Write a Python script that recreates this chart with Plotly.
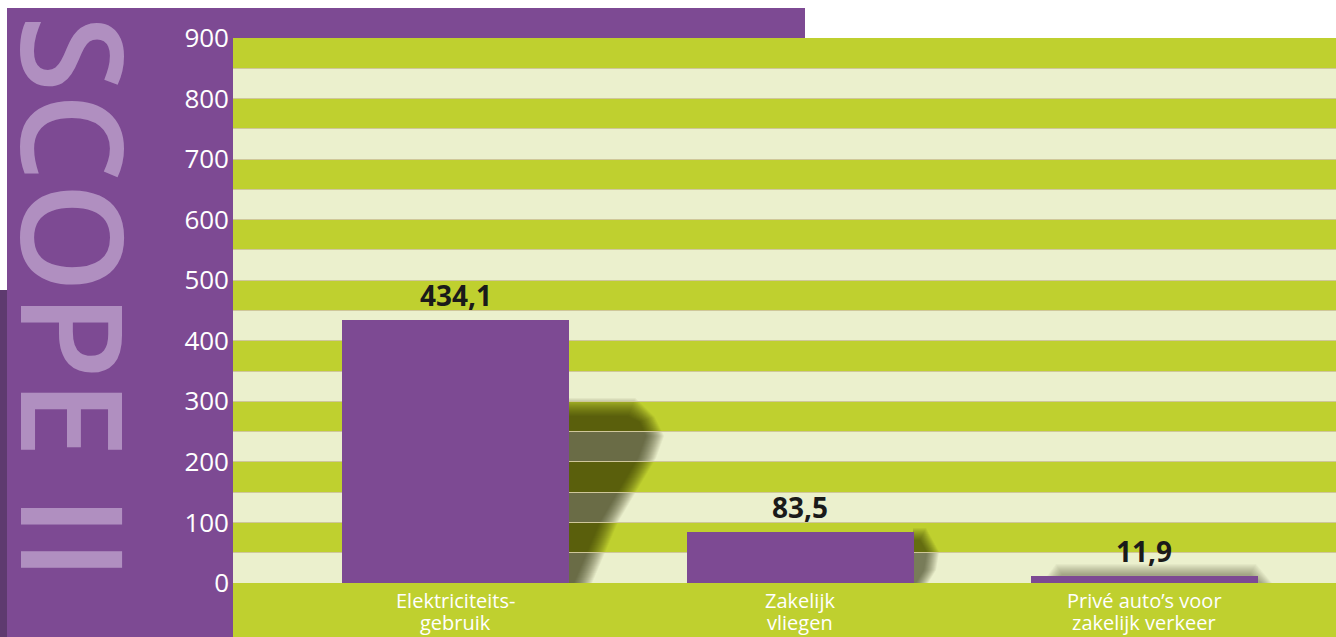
import plotly.graph_objects as go

# ---- data ----
categories = ["Elektriciteits-<br>gebruik", "Zakelijk<br>vliegen", "Privé auto’s voor<br>zakelijk verkeer"]
values = [434.1, 83.5, 11.9]
value_labels = ["434,1", "83,5", "11,9"]
y_ticks = [0, 100, 200, 300, 400, 500, 600, 700, 800, 900]
title_text = "SCOPE II"

PURPLE = "#7d4a93"
GREEN = "#bfd02f"
LIGHT = "#ebf0cd"
GRID = "#cfc79a"

W, H = 1336, 637
L, R, T, B = 233, 0, 38, 54
pw, ph = W - L - R, H - T - B


def px_x(p):
    return (p - L) / pw


def px_y(p):
    return (H - B - p) / ph


x_idx = list(range(len(categories)))

fig = go.Figure()
fig.add_trace(go.Bar(
    x=x_idx, y=values, width=0.659,
    marker=dict(color=PURPLE, line=dict(width=0)),
    hoverinfo="skip", showlegend=False,
))

shapes = []
# purple panel
shapes.append(dict(type="rect", xref="paper", yref="paper", x0=px_x(7), x1=px_x(805),
                   y0=px_y(H + 5), y1=px_y(8), fillcolor=PURPLE, line=dict(width=0), layer="below"))
shapes.append(dict(type="rect", xref="paper", yref="paper", x0=px_x(-2), x1=px_x(7),
                   y0=px_y(H + 5), y1=px_y(290), fillcolor="#5e3a6f", line=dict(width=0), layer="below"))
# stripes
for k in range(0, 900, 100):
    shapes.append(dict(type="rect", xref="paper", yref="y", x0=0, x1=1, y0=k, y1=k + 50,
                       fillcolor=LIGHT, line=dict(width=0), layer="below"))
    shapes.append(dict(type="rect", xref="paper", yref="y", x0=0, x1=1, y0=k + 50, y1=k + 100,
                       fillcolor=GREEN, line=dict(width=0), layer="below"))
# bottom label band
shapes.append(dict(type="rect", xref="paper", yref="paper", x0=0, x1=1.01, y0=px_y(H + 5), y1=0,
                   fillcolor=GREEN, line=dict(width=0), layer="below"))


# soft shadows (many layered translucent paths to fake a blur)
def shadow(pts, op):
    d = "M " + " L ".join(f"{px_x(a)},{px_y(b)}" for a, b in pts) + " Z"
    return dict(type="path", xref="paper", yref="paper", path=d, fillcolor="#1e1e08",
                opacity=op, line=dict(width=0), layer="between")


for g in range(18, -1, -1):
    shapes.append(shadow([(569, 416 - g), (628 + 0.4 * g, 416 - g), (640 + 0.8 * g, 422 - 0.3 * g),
                          (646 + g, 436), (638 + g, 458), (600 + g, 522), (574 + g, 583),
                          (569, 583)], 0.05))
for g in range(12, -1, -1):
    shapes.append(shadow([(913, 540 - g), (920 + 0.5 * g, 540 - g), (927 + g, 552),
                          (924 + g, 570), (916 + g, 583), (913, 583)], 0.06))
for g in range(10, -1, -1):
    shapes.append(shadow([(1052 - g, 583), (1062 - 0.6 * g, 574 - g), (1250 + 0.6 * g, 574 - g),
                          (1262 + g, 583)], 0.035))

annotations = []
# title
annotations.append(dict(xref="paper", yref="paper", x=px_x(76), y=px_y(298), text=title_text,
                        textangle=90, showarrow=False, xanchor="center", yanchor="middle",
                        font=dict(family="Open Sans", size=141, color="#b08fc0", weight=600)))
# value labels
for i, (v, t) in enumerate(zip(values, value_labels)):
    annotations.append(dict(x=i, y=v, xref="x", yref="y", text=t, showarrow=False,
                            yanchor="bottom", yshift=4,
                            font=dict(family="Open Sans", size=28, color="#1a1a1a", weight=700)))
# category labels (two lines each)
for i, c in enumerate(categories):
    for j, line in enumerate(c.split("<br>")):
        annotations.append(dict(x=i, y=px_y(600 + 22 * j), xref="x", yref="paper", text=line,
                                showarrow=False, yanchor="middle",
                                font=dict(family="Open Sans", size=20, color="white")))

fig.update_layout(
    width=W, height=H,
    margin=dict(l=L, r=R, t=T, b=B, pad=0),
    paper_bgcolor="white", plot_bgcolor="rgba(0,0,0,0)",
    shapes=shapes, annotations=annotations,
    bargap=0,
    xaxis=dict(range=[-0.646, 2.556], showticklabels=False, showgrid=False, zeroline=False,
               fixedrange=True),
    yaxis=dict(range=[0, 900], tickvals=y_ticks, showgrid=True, gridcolor=GRID, gridwidth=1,
               zeroline=False, ticks="", ticklabelstandoff=3,
               tickfont=dict(family="Open Sans", size=26, color="white"),
               minor=dict(dtick=50, showgrid=True, gridcolor=GRID, gridwidth=1),
               fixedrange=True),
)

fig.write_html("out.html", config={"displayModeBar": False},
               post_script="document.body.style.margin='0';document.body.style.overflow='hidden';")
